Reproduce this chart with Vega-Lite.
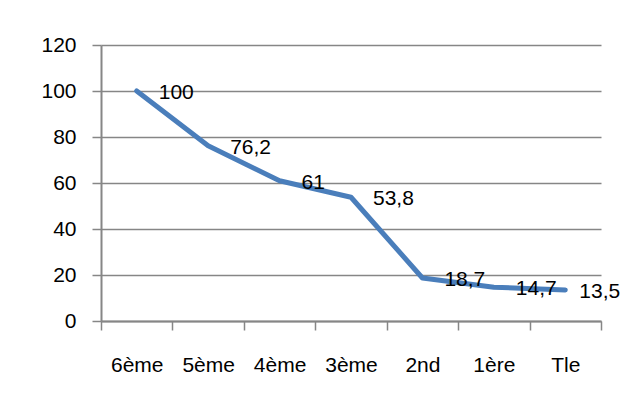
{
  "$schema": "https://vega.github.io/schema/vega-lite/v6.json",
  "width": 500,
  "height": 276,
  "autosize": {"type": "none"},
  "padding": {"left": 101, "top": 45, "right": 21, "bottom": 79},
  "background": "white",
  "data": {
    "values": [
      {"niveau": "6ème", "ordre": 1, "valeur": 100},
      {"niveau": "5ème", "ordre": 2, "valeur": 76.2},
      {"niveau": "4ème", "ordre": 3, "valeur": 61},
      {"niveau": "3ème", "ordre": 4, "valeur": 53.8},
      {"niveau": "2nd", "ordre": 5, "valeur": 18.7},
      {"niveau": "1ère", "ordre": 6, "valeur": 14.7},
      {"niveau": "Tle", "ordre": 7, "valeur": 13.5}
    ]
  },
  "encoding": {
    "x": {
      "field": "niveau",
      "type": "nominal",
      "sort": {"field": "ordre"},
      "bandPosition": 0.5,
      "scale": {"type": "band", "paddingInner": 0, "paddingOuter": 0},
      "axis": {
        "title": null,
        "labelAngle": 0,
        "tickBand": "extent",
        "tickSize": 9,
        "tickWidth": 1.5,
        "tickColor": "#868686",
        "domainColor": "#868686",
        "domainWidth": 2,
        "labelPadding": 24,
        "grid": false
      }
    },
    "y": {
      "field": "valeur",
      "type": "quantitative",
      "scale": {"domain": [0, 120], "nice": false, "zero": true},
      "axis": {
        "title": null,
        "values": [0, 20, 40, 60, 80, 100, 120],
        "grid": true,
        "gridColor": "#868686",
        "gridWidth": 1.5,
        "tickSize": 9,
        "tickWidth": 1.5,
        "tickColor": "#868686",
        "domainColor": "#868686",
        "domainWidth": 2,
        "labelPadding": 16
      }
    }
  },
  "layer": [
    {
      "mark": {"type": "line", "color": "#4a7ebb", "strokeWidth": 5, "strokeCap": "round", "strokeJoin": "round"}
    },
    {
      "transform": [{"filter": "datum.ordre < 7"}],
      "mark": {"type": "text", "align": "left", "baseline": "middle", "dx": 22, "dy": 2, "font": "Liberation Sans, Arial, sans-serif", "fontSize": 21, "color": "#000000"},
      "encoding": {
        "text": {"field": "valeur", "type": "quantitative", "format": ".1~f"}
      }
    },
    {
      "transform": [{"filter": "datum.ordre == 7"}],
      "mark": {"type": "text", "align": "left", "baseline": "middle", "dx": 14, "dy": 2, "font": "Liberation Sans, Arial, sans-serif", "fontSize": 21, "color": "#000000"},
      "encoding": {
        "text": {"field": "valeur", "type": "quantitative", "format": ".1~f"}
      }
    }
  ],
  "config": {
    "locale": {"number": {"decimal": ",", "thousands": " ", "grouping": [3], "currency": ["", " €"]}},
    "view": {"stroke": null},
    "axis": {
      "labelFont": "Liberation Sans, Arial, sans-serif",
      "labelFontSize": 21,
      "labelColor": "#000000"
    }
  }
}
